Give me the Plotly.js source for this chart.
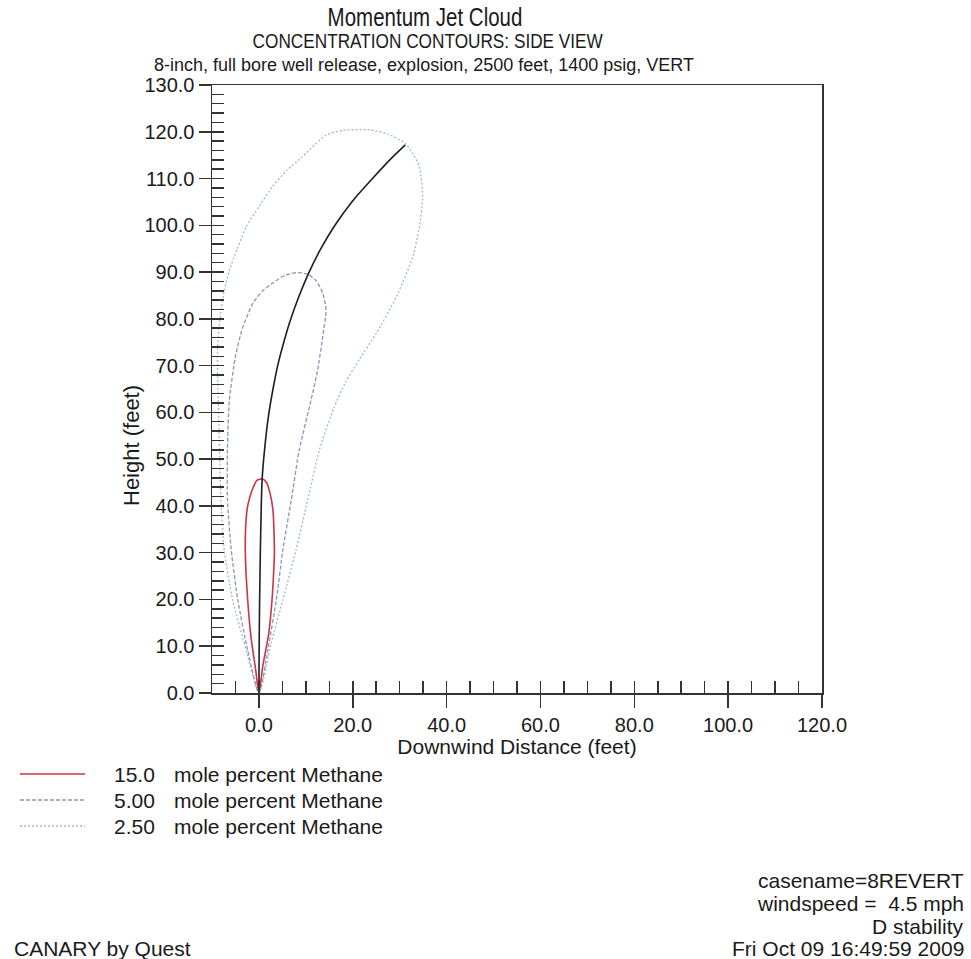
<!DOCTYPE html>
<html>
<head>
<meta charset="utf-8">
<script src="https://cdn.plot.ly/plotly-3.0.1.min.js"></script>
<style>html,body{margin:0;padding:0;background:#fff;}#chart{width:971px;height:959px;}</style>
</head>
<body>
<div id="chart"></div>
<script>
// ---- data ----
const centerX = [0, 0.05, 0.15, 0.3, 0.5, 0.7, 1.2, 2.0, 3.0, 4.0, 5.3, 6.8, 8.6, 10.7, 13.2, 16.2, 19.8, 24.2, 27.9, 31.2];
const centerY = [0, 10, 20, 30, 40, 46, 52, 59, 65, 70, 75, 80, 85, 90, 95, 100, 105, 110, 114, 117.2];

const c150X = [0, -0.7, -1.7, -2.4, -2.9, -2.8, -2.4, -1.4, -0.4, 0.7, 1.6, 2.3, 3.0, 3.3, 3.1, 2.8, 2.1, 0.8, 0];
const c150Y = [0, 5, 12, 20, 30, 36, 40, 43.5, 45.5, 45.8, 45, 43, 39, 30, 25, 20, 12.8, 5.6, 0];

const c500X = [0, -2.4, -4.5, -5.9, -6.7, -6.7, -6.3, -5.0, -3.5, -1.3, 0.8, 2.9, 5.5, 8.3, 10.5, 12.3, 13.6, 14.3, 13.6, 12.5, 11.1, 8.6, 6.9, 5.1, 3.7, 1.9, 0];
const c500Y = [0, 9.2, 19.9, 30.6, 41.3, 52, 62.6, 72, 78, 83.3, 86, 87.6, 89.3, 89.9, 89.5, 88, 85.5, 81.9, 76.2, 69, 62.6, 52, 41.3, 30.6, 19.9, 9.2, 0];

const c250X = [0, -3.1, -5.6, -7.4, -8.1, -8.4, -8.6, -8.8, -8.8, -8.3, -7.4, -6.3, -4.6, -2.7, 0, 2.9, 6.0, 9.3, 12.0, 14.3, 18.0, 23.6, 27.5, 31.2, 33.0, 34.2, 34.9, 34.2, 32.8, 29.3, 25.0, 21.5, 18.5, 16.0, 12.9, 10.4, 7.9, 5.1, 2.6, 0];
const c250Y = [0, 10.6, 19.9, 30.6, 41.3, 52, 60, 68, 74, 80, 86, 90.4, 95, 99.7, 104, 108.3, 111.8, 114.7, 117.3, 119.3, 120.3, 120.4, 119.5, 117.5, 115, 112.5, 106.1, 99.7, 93.3, 84.7, 76.9, 71.5, 66.5, 61, 52, 41.3, 30.6, 19.9, 10.6, 0];

const levelLabels = ['15.0', '5.00', '2.50'];
const levelText = 'mole percent Methane';
const titleText = 'Momentum Jet Cloud';
const subtitle1 = 'CONCENTRATION CONTOURS: SIDE VIEW';
const subtitle2 = '8-inch, full bore well release, explosion, 2500 feet, 1400 psig, VERT';
const xTitle = 'Downwind Distance (feet)';
const yTitle = 'Height (feet)';
const footLeft = 'CANARY by Quest';
const footRight = ['casename=8REVERT', 'windspeed =\u00a0 4.5 mph', 'D stability', 'Fri Oct 09 16:49:59 2009'];

// ---- styling ----
const FONT = 'Liberation Sans, Arial, sans-serif';
const TXT = '#1a1a1a';
const AX = '#333333';
const colors = ['#cc3344', '#8c96b8', '#a4bcae'];
const dashes = ['solid', '4px,2px', '2px,2px'];
const widths = [1.6, 1.3, 1.3];

const W = 971, H = 959;
const L = 212, R = 822, T = 85, B = 693;
const px = v => (v - L) / (R - L);
const py = v => (B - v) / (B - T);

const traces = [
  {x: c250X, y: c250Y, name: levelLabels[2] + ' ' + levelText, mode: 'lines', line: {color: colors[2], dash: dashes[2], width: widths[2], shape: 'spline', smoothing: 0.6}},
  {x: c500X, y: c500Y, name: levelLabels[1] + ' ' + levelText, mode: 'lines', line: {color: colors[1], dash: dashes[1], width: widths[1], shape: 'spline', smoothing: 0.6}},
  {x: c150X, y: c150Y, name: levelLabels[0] + ' ' + levelText, mode: 'lines', line: {color: colors[0], dash: dashes[0], width: widths[0], shape: 'spline', smoothing: 0.6}},
  {x: centerX, y: centerY, name: 'centerline', mode: 'lines', xaxis: 'x2', yaxis: 'y2', line: {color: '#1e1e1e', width: 1.6, shape: 'spline', smoothing: 0.8}}
];
traces.forEach(t => t.showlegend = false);

const annotations = [];
function ann(text, x, y, xanchor, size, extra) {
  annotations.push(Object.assign({text: text, x: px(x), y: py(y), xref: 'paper', yref: 'paper',
    xanchor: xanchor, yanchor: 'middle', showarrow: false,
    font: {family: FONT, size: size, color: TXT}}, extra || {}));
}
ann(subtitle1, 428, 41, 'center', 21);
ann(subtitle2, 424, 65, 'center', 18);
ann(yTitle, 131, 446, 'center', 22, {textangle: -90});
const legY = [774, 800, 826];
const shapes = [];
levelLabels.forEach((lab, i) => {
  ann(lab, 157, legY[i], 'right', 21);
  ann(levelText, 172, legY[i], 'left', 21);
  shapes.push({type: 'line', xref: 'paper', yref: 'paper', x0: px(20), x1: px(85), y0: py(legY[i]), y1: py(legY[i]),
    line: {color: colors[i], dash: dashes[i], width: widths[i]}});
});
ann(footLeft, 12, 948, 'left', 21);
const footY = [880, 903, 926, 948];
footRight.forEach((t, i) => ann(t, 966, footY[i], 'right', 21));

const layout = {
  width: W, height: H,
  margin: {l: L, r: W - R, t: T, b: H - B, pad: 0},
  paper_bgcolor: '#ffffff', plot_bgcolor: '#ffffff',
  showlegend: false,
  title: {text: titleText, font: {family: FONT, size: 25, color: TXT}, xref: 'container', yref: 'container',
    x: 425 / W, xanchor: 'center', y: 1 - 17 / H, yanchor: 'middle'},
  xaxis: {range: [-10, 120], tick0: 0, dtick: 20, tickformat: '.1f', ticks: 'outside', ticklen: 13, tickwidth: 1.5, tickcolor: AX,
    showline: true, linecolor: AX, linewidth: 1.5, mirror: true, showgrid: false, zeroline: false,
    tickfont: {family: FONT, size: 20, color: TXT},
    title: {text: xTitle, font: {family: FONT, size: 21, color: TXT}, standoff: 4}},
  yaxis: {range: [0, 130], tick0: 0, dtick: 10, tickformat: '.1f', ticks: 'outside', ticklen: 12, tickwidth: 1.5, tickcolor: AX,
    showline: true, linecolor: AX, linewidth: 1.5, mirror: true, showgrid: false, zeroline: false,
    tickfont: {family: FONT, size: 20, color: TXT}},
  xaxis2: {overlaying: 'x', matches: 'x', range: [-10, 120], anchor: 'y2', side: 'bottom', tick0: 0, dtick: 5, ticks: 'inside', ticklen: 12, tickwidth: 1.5, tickcolor: AX,
    showticklabels: false, showline: false, showgrid: false, zeroline: false},
  yaxis2: {overlaying: 'y', matches: 'y', range: [0, 130], anchor: 'x2', side: 'left', tick0: 0, dtick: 2, ticks: 'inside', ticklen: 12, tickwidth: 1.5, tickcolor: AX,
    showticklabels: false, showline: false, showgrid: false, zeroline: false},
  annotations: annotations,
  shapes: shapes
};

// condense the two heading lines horizontally (the reference uses a narrow face)
function condense(el, k) {
  if (!el) return;
  const bb = el.getBBox();
  const cx = bb.x + bb.width / 2;
  const prev = el.getAttribute('transform') || '';
  el.setAttribute('transform', prev + ' translate(' + cx + ',0) scale(' + k + ',1) translate(' + (-cx) + ',0)');
}

Plotly.newPlot('chart', traces, layout, {staticPlot: true, displayModeBar: false}).then(gd => {
  condense(gd.querySelector('.g-gtitle text'), 0.82);
  gd.querySelectorAll('.annotation-text').forEach(t => {
    if (t.textContent === subtitle1) condense(t, 0.82);
  });
});
</script>
</body>
</html>
